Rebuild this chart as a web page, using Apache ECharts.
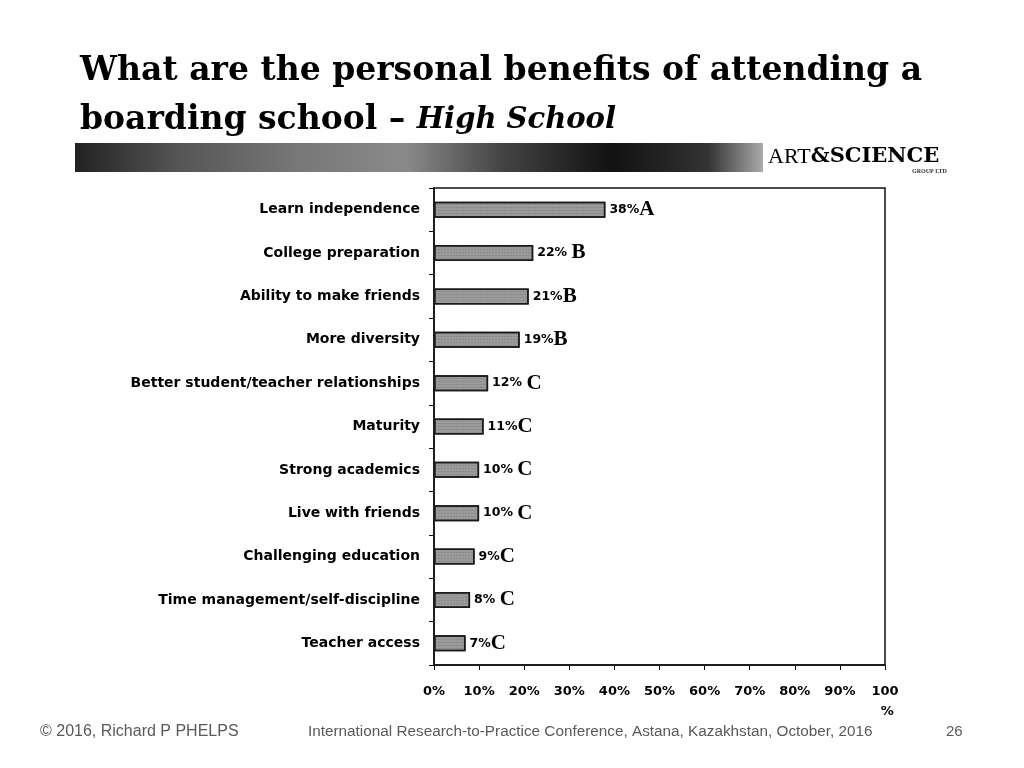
<!DOCTYPE html>
<html>
<head>
<meta charset="utf-8">
<script src="https://cdn.jsdelivr.net/npm/echarts@6/dist/echarts.min.js"></script>
<style>
html,body{margin:0;padding:0;background:#fff;}
#c{width:1024px;height:768px;}
</style>
</head>
<body>
<div id="c"></div>
<script>
const categories = [
  'Learn independence',
  'College preparation',
  'Ability to make friends',
  'More diversity',
  'Better student/teacher relationships',
  'Maturity',
  'Strong academics',
  'Live with friends',
  'Challenging education',
  'Time management/self-discipline',
  'Teacher access'
];
const values = [38, 22, 21, 19, 12, 11, 10, 10, 9, 8, 7];
const grades = ['A', 'B', 'B', 'B', 'C', 'C', 'C', 'C', 'C', 'C', 'C'];
const gradeGap = ['', ' ', '', '', ' ', '', ' ', ' ', '', ' ', ''];
const xTicks = [0, 10, 20, 30, 40, 50, 60, 70, 80, 90, 100];

const chart = echarts.init(document.getElementById('c'));
const option = {
  backgroundColor: '#ffffff',
  animation: false,
  grid: {
    left: 434, right: 139, top: 188, bottom: 103,
    show: true, borderColor: '#111', borderWidth: 1.5, backgroundColor: 'transparent'
  },
  xAxis: {
    type: 'value', min: 0, max: 100, interval: 10,
    axisLine: { show: true, lineStyle: { color: '#111', width: 1.5 } },
    axisTick: { show: true, length: 5, lineStyle: { color: '#111' } },
    splitLine: { show: false },
    axisLabel: {
      margin: 17, color: '#000', fontFamily: 'DejaVu Sans', fontWeight: 'bold', fontSize: 13,
      lineHeight: 20,
      formatter: function (v) { return v === 100 ? '100\n %' : v + '%'; }
    }
  },
  yAxis: {
    type: 'category', data: categories, inverse: true,
    axisLine: { show: true, lineStyle: { color: '#111', width: 1.5 } },
    axisTick: { show: true, length: 5, lineStyle: { color: '#111' } },
    axisLabel: {
      margin: 14, color: '#000', fontFamily: 'DejaVu Sans', fontWeight: 'bold', fontSize: 14
    }
  },
  series: [{
    type: 'bar',
    data: values,
    barWidth: 16,
    itemStyle: {
      color: '#9a9a9a', borderColor: '#1a1a1a', borderWidth: 1.5,
      decal: { symbol: 'rect', symbolSize: 0.5, dashArrayX: [2, 1], dashArrayY: [1, 2], color: 'rgba(40,40,40,0.6)', rotation: 0 }
    },
    label: {
      show: true, position: 'right', distance: 4,
      formatter: function (p) {
        return '{v|' + values[p.dataIndex] + '%' + gradeGap[p.dataIndex] + '}{g|' + grades[p.dataIndex] + '}';
      },
      rich: {
        v: { fontFamily: 'DejaVu Sans', fontWeight: 'bold', fontSize: 12.5, color: '#000' },
        g: { fontFamily: 'Liberation Serif, Times New Roman', fontWeight: 'bold', fontSize: 21, color: '#000' }
      }
    }
  }],
  graphic: [
    {
      type: 'text', left: 80, top: 55,
      style: {
        text: 'What are the personal benefits of attending a',
        font: 'bold 33px "DejaVu Serif", serif', fill: '#000'
      }
    },
    {
      type: 'text', left: 80, top: 104,
      style: {
        rich: {
          a: { font: 'bold 33px "DejaVu Serif", serif', fill: '#000' },
          b: { font: 'italic bold 29px "DejaVu Serif", serif', fill: '#000' }
        },
        text: '{a|boarding school – }{b|High School}'
      }
    },
    {
      type: 'rect', shape: { x: 75, y: 143, width: 688, height: 29 },
      style: {
        fill: new echarts.graphic.LinearGradient(0, 0, 1, 0, [
          { offset: 0, color: '#222' },
          { offset: 0.15, color: '#555' },
          { offset: 0.32, color: '#777' },
          { offset: 0.48, color: '#8a8a8a' },
          { offset: 0.62, color: '#444' },
          { offset: 0.78, color: '#111' },
          { offset: 0.92, color: '#333' },
          { offset: 1, color: '#aaa' }
        ])
      }
    },
    {
      type: 'text', left: 768, top: 146,
      style: {
        rich: {
          a: { font: '22px "Liberation Serif", serif', fill: '#000' },
          b: { font: 'bold 21px "DejaVu Serif", serif', fill: '#000' }
        },
        text: '{a|ART}{b|&SCIENCE}'
      }
    },
    {
      type: 'text', left: 912, top: 168,
      style: { text: 'GROUP LTD', font: 'bold 6px "Liberation Serif", serif', fill: '#333' }
    },
    {
      type: 'text', left: 40, top: 724,
      style: { text: '© 2016, Richard P PHELPS', font: '16px "Liberation Sans", Arial', fill: '#595959' }
    },
    {
      type: 'text', left: 308, top: 724,
      style: { text: 'International Research-to-Practice Conference, Astana, Kazakhstan, October, 2016', font: '15.3px "Liberation Sans", Arial', fill: '#595959' }
    },
    {
      type: 'text', left: 946, top: 724,
      style: { text: '26', font: '15px "Liberation Sans", Arial', fill: '#595959' }
    }
  ]
};
chart.setOption(option);
</script>
</body>
</html>
